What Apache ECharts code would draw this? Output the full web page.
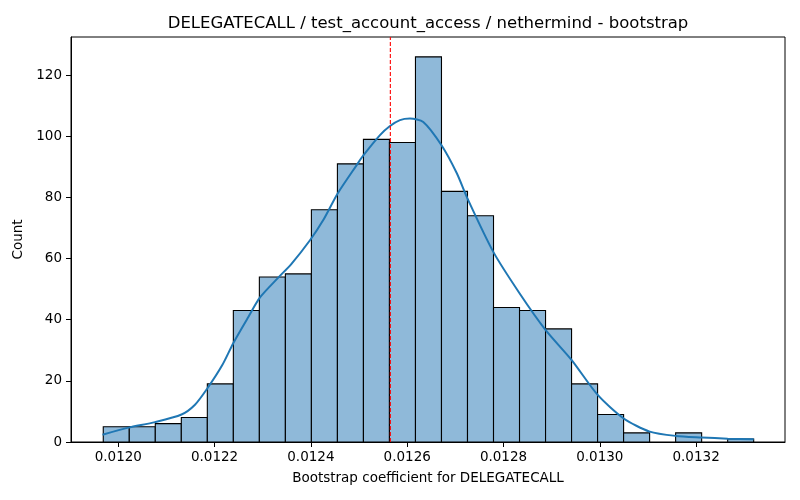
<!DOCTYPE html>
<html>
<head>
<meta charset="utf-8">
<script src="https://cdn.jsdelivr.net/npm/echarts@6/dist/echarts.min.js"></script>
<style>html,body{margin:0;padding:0;background:#fff}#c{width:800px;height:500px}</style>
</head>
<body>
<div id="c"></div>
<script>
// Histogram bins
const binStart = 0.0119688;
const binWidth = 0.00005403;
const counts = [5, 5, 6, 8, 19, 43, 54, 55, 76, 91, 99, 98, 126, 82, 74, 44, 43, 37, 19, 9, 3, 0, 3, 0, 1];

// KDE curve
const kdeX = [0.0119672, 0.0120212, 0.0120762, 0.0121313, 0.0121593, 0.0121848, 0.0122154, 0.0122393,
  0.0122704, 0.0122943, 0.0123317, 0.0123597, 0.0123981, 0.0124257, 0.0124556, 0.0124951, 0.0125097,
  0.0125435, 0.0125636, 0.0125850, 0.0126058, 0.0126334, 0.0126716, 0.0127028, 0.0127256, 0.0127788,
  0.0128336, 0.0128876, 0.0129416, 0.0129956, 0.0130496, 0.0131036, 0.0131576, 0.0132116, 0.0132656, 0.0133196];
const kdeY = [2.4, 4.7, 6.5, 9.0, 12.2, 17.5, 25, 32.5, 41, 47.3, 53.7, 58.3, 66, 72.6, 81.3, 90.6, 93.9,
  100.4, 103.3, 105.3, 105.8, 104.7, 97, 88, 79.5, 62.2, 48.6, 36.6, 26.8, 15.4, 7.7, 3.4, 2.0, 1.5, 1.1, 0.9];

// Reference line
const refValue = 0.012565;

// Ticks
const xTicks = [0.0120, 0.0122, 0.0124, 0.0126, 0.0128, 0.0130, 0.0132];
const yTicks = [0, 20, 40, 60, 80, 100, 120];

const xMin = 0.0119018, xMax = 0.0133846;
const yMin = 0, yMax = 132.5;

const histData = [];
counts.forEach((c, i) => {
  if (c > 0) histData.push([binStart + i * binWidth, binStart + (i + 1) * binWidth, c]);
});
const kdeData = kdeX.map((x, i) => [x, kdeY[i]]);
const refData = [[refValue, yMin], [refValue, yMax]];

const font = 'DejaVu Sans';
const chart = echarts.init(document.getElementById('c'), null, {renderer: 'canvas'});
chart.setOption({
  animation: false,
  backgroundColor: '#fff',
  title: {
    text: 'DELEGATECALL / test_account_access / nethermind - bootstrap',
    left: 423, top: 10, textAlign: 'center',
    textStyle: {fontFamily: font, fontSize: 16.5, fontWeight: 'normal', color: '#000'}
  },
  grid: {left: 71, right: 15, top: 37, bottom: 58, show: true, borderColor: '#000', borderWidth: 1, containLabel: false},
  xAxis: {
    type: 'value', min: xMin, max: xMax,
    name: 'Bootstrap coefficient for DELEGATECALL', nameLocation: 'middle', nameGap: 29,
    nameTextStyle: {fontFamily: font, fontSize: 13.5, color: '#000'},
    axisLine: {show: true, lineStyle: {color: '#000', width: 1}},
    axisTick: {show: true, length: 5, lineStyle: {color: '#000'}, customValues: xTicks},
    axisLabel: {fontFamily: font, fontSize: 13.5, color: '#000', margin: 8, customValues: xTicks,
      formatter: v => v.toFixed(4)},
    splitLine: {show: false}
  },
  yAxis: {
    type: 'value', min: yMin, max: yMax,
    name: 'Count', nameLocation: 'middle', nameGap: 37, nameRotate: 90,
    nameTextStyle: {fontFamily: font, fontSize: 13.5, color: '#000'},
    axisLine: {show: true, lineStyle: {color: '#000', width: 1}},
    axisTick: {show: true, length: 5, lineStyle: {color: '#000'}, customValues: yTicks},
    axisLabel: {fontFamily: font, fontSize: 13.5, color: '#000', margin: 9, customValues: yTicks},
    splitLine: {show: false}
  },
  series: [
    {
      type: 'custom',
      data: histData,
      encode: {x: [0, 1], y: 2},
      renderItem: function (params, api) {
        const p0 = api.coord([api.value(0), api.value(2)]);
        const p1 = api.coord([api.value(1), 0]);
        return {
          type: 'rect',
          shape: {x: p0[0], y: p0[1], width: p1[0] - p0[0], height: p1[1] - p0[1]},
          style: {fill: '#8fb9d9', stroke: '#000', lineWidth: 1.1}
        };
      },
      z: 2
    },
    {
      type: 'line',
      data: kdeData,
      smooth: 0.25,
      symbol: 'none',
      lineStyle: {color: '#1f77b4', width: 2},
      z: 3
    },
    {
      type: 'line',
      data: refData,
      symbol: 'none',
      silent: true,
      lineStyle: {color: '#ff0000', type: [4, 2], width: 1.1},
      z: 4
    }
  ]
});
</script>
</body>
</html>
